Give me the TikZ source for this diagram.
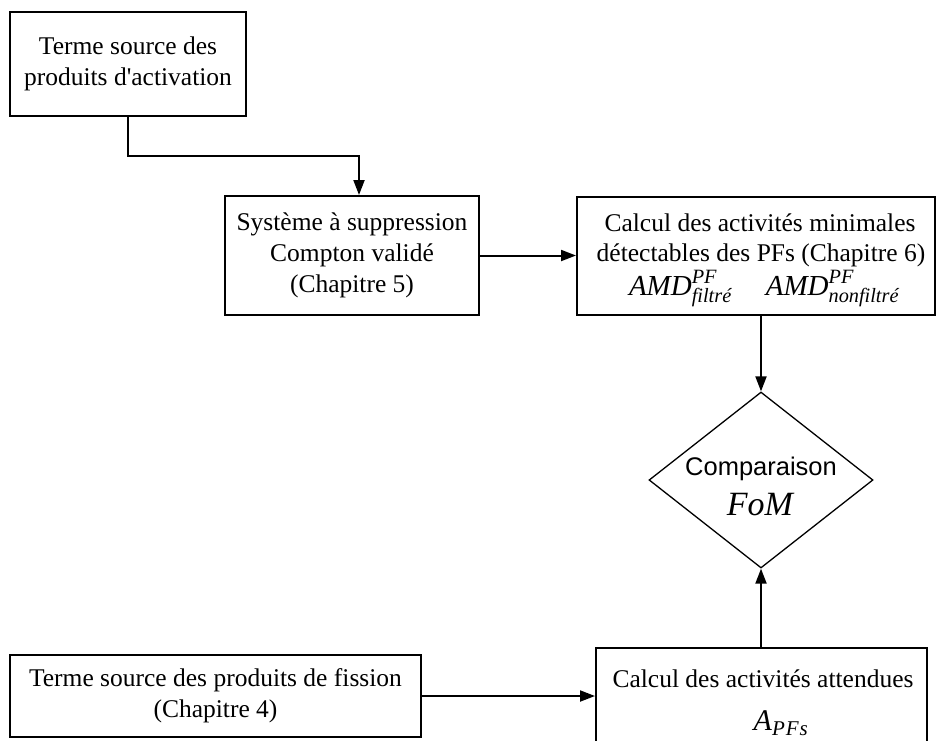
\documentclass[tikz,border=0pt]{standalone}
\usepackage{amsmath}
\usepackage{fontspec}
\setmainfont{Liberation Serif}
\setsansfont{Liberation Sans}
\newfontfamily\plainserif{Liberation Serif}[Ligatures=TeXOff]
\usetikzlibrary{arrows.meta,shapes.geometric,calc}
\begin{document}
\begin{tikzpicture}[x=1pt,y=-1pt,
  box/.style={draw, line width=2pt, align=center, inner sep=0pt,
    font=\fontsize{25.5}{31}\selectfont},
  arr/.style={line width=2pt, -{Triangle[length=15pt,width=11pt]}},
  lbl/.style={align=center, inner sep=0pt, anchor=base,
    font=\fontsize{25.5}{31}\selectfont}]
\useasboundingbox (0,0) rectangle (936,740);
\clip (0,0) rectangle (936,740);
\fill[white] (0,0) rectangle (936,740);
% boxes
\node[box, minimum width=236pt, minimum height=104pt] (b1) at (128,64)
  {Terme source des\\produits d{\plainserif'}activation};
\node[box, minimum width=254pt, minimum height=119pt] (b2) at (352,255.5)
  {Système à suppression\\Compton validé\\(Chapitre 5)};
\node[box, minimum width=358pt, minimum height=118pt] (b3) at (756,256) {};
\node[lbl] (b3t1) at (760,231) {Calcul des activités minimales};
\node[lbl] (b3t2) at (761,261) {détectables des PFs (Chapitre 6)};
\node[lbl, font=\fontsize{29}{33}\selectfont] (b3m) at (764,295)
  {$\textit{AMD}^{\textit{PF}}_{\textit{filtré}}\hspace{34pt}\textit{AMD}^{\textit{PF}}_{\textit{nonfiltré}}$};
% decision
\node[draw, diamond, line width=1.3pt, minimum width=224pt, minimum height=176pt,
  inner sep=0pt] (dia) at (761,480) {};
\node[lbl, font=\sffamily\fontsize{25.5}{31}\selectfont] (diat1) at (761,475) {Comparaison};
\node[lbl, font=\fontsize{34}{36}\selectfont\itshape] (diat2) at (760,515) {FoM};
% bottom
\node[box, minimum width=411pt, minimum height=82pt] (b4) at (215.5,696)
  {Terme source des produits de fission\\(Chapitre 4)};
\node[box, minimum width=331pt, minimum height=144pt, anchor=north] (b5) at (761.5,647) {};
\node[lbl] (b5t1) at (763,687) {Calcul des activités attendues};
\node[lbl, font=\fontsize{30}{34}\selectfont] (b5t2) at (781,730)
  {$\textit{A}_{\textit{P\kern1pt F\kern1pt s}}$};
% connectors
\draw[arr] (b1.south) -- ++(0,39) -| ([xshift=7pt]b2.north);
\draw[arr] (b2.east) -- (b2.east -| b3.west);
\draw[arr] (dia.north |- b3.south) -- (dia.north);
\draw[arr] (b4.east) -- (b4.east -| b5.west);
\draw[arr] (dia.south |- b5.north) -- (dia.south);
\end{tikzpicture}
\end{document}
